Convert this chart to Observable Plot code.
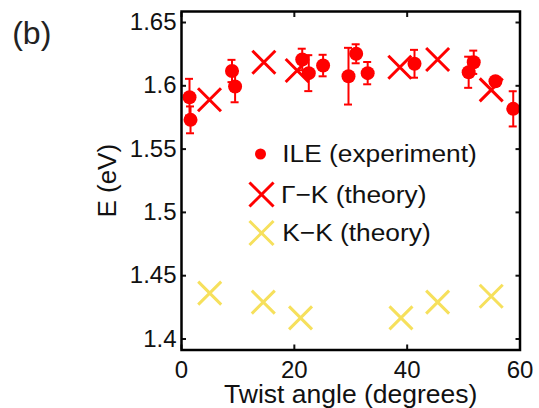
<!DOCTYPE html>
<html><head><meta charset="utf-8">
<script src="https://cdn.jsdelivr.net/npm/d3@7"></script>
<script src="https://cdn.jsdelivr.net/npm/@observablehq/plot@0.6"></script>
<style>
body{margin:0;background:#fff;}
#chart svg{font-family:"Liberation Sans",Arial,Helvetica,sans-serif;background:#fff;}
</style></head><body><div id="chart"></div>
<script>
// ILE (experiment): twist angle, energy, error half-width
const ileAngle  = [1.42, 1.6, 8.95, 9.5, 21.4, 22.56, 25.1, 29.6, 30.96, 33.0, 41.3, 51.8, 50.9, 55.65, 58.8];
const ileEnergy = [1.591, 1.5731, 1.6117, 1.5994, 1.6208, 1.610, 1.616, 1.6076, 1.6253, 1.610, 1.6174, 1.6186, 1.6107, 1.6036, 1.5818];
const ileError  = [0.0145, 0.0106, 0.0088, 0.0124, 0.0085, 0.0142, 0.0085, 0.0224, 0.0075, 0.0088, 0.011, 0.0092, 0.0123, 0.003, 0.0139];
// Γ−K (theory)
const gkAngle  = [4.96, 14.6, 20.5, 38.7, 45.4, 54.9];
const gkEnergy = [1.589, 1.6186, 1.6121, 1.6147, 1.6208, 1.5968];
// K−K (theory)
const kkAngle  = [5.0, 14.5, 21.1, 38.9, 45.4, 54.9];
const kkEnergy = [1.4362, 1.4291, 1.4167, 1.4167, 1.4291, 1.4338];

const xTicks = [0, 20, 40, 60];
const yTicks = [1.4, 1.45, 1.5, 1.55, 1.6, 1.65];
const yTickLabels = ["1.4", "1.45", "1.5", "1.55", "1.6", "1.65"];
const legendLabels = ["ILE (experiment)", "\u0393\u2212K (theory)", "K\u2212K (theory)"];
const panelLabel = "(b)";
const xLabel = "Twist angle (degrees)";
const yLabel = "E (eV)";

const RED = "#ff0000";
const YELLOW = "#f6e05c";

const ile = ileAngle.map((x, i) => ({x, y: ileEnergy[i], e: ileError[i]}));
const gk = gkAngle.map((x, i) => ({x, y: gkEnergy[i]}));
const kk = kkAngle.map((x, i) => ({x, y: kkEnergy[i]}));
const yFmt = d => yTickLabels[yTicks.findIndex(t => Math.abs(t - d) < 1e-9)];

const chart = Plot.plot({
  width: 539,
  height: 408,
  marginLeft: 181,
  marginRight: 19.5,
  marginTop: 11,
  marginBottom: 58.5,
  style: {background: "#fff", color: "#111"},
  x: {domain: [0, 60]},
  y: {domain: [1.3913, 1.6587]},
  marks: [
    Plot.axisX({anchor: "bottom", ticks: xTicks, tickSize: -5, tickPadding: 16, strokeWidth: 2, fontSize: 24, label: null}),
    Plot.axisX({anchor: "top", ticks: xTicks, tickSize: -5, tickFormat: () => "", strokeWidth: 2, label: null}),
    Plot.axisY({anchor: "left", ticks: yTicks, tickSize: -5, tickPadding: 10, tickFormat: yFmt, strokeWidth: 2, fontSize: 24, label: null}),
    Plot.axisY({anchor: "right", ticks: yTicks, tickSize: -5, tickFormat: () => "", strokeWidth: 2, label: null}),
    // error bars
    Plot.ruleX(ile, {x: "x", y1: d => d.y - d.e, y2: d => d.y + d.e, stroke: RED, strokeWidth: 2}),
    Plot.ruleY(ile, {y: d => d.y + d.e, x1: "x", x2: "x", insetLeft: -4, insetRight: -4, stroke: RED, strokeWidth: 2}),
    Plot.ruleY(ile, {y: d => d.y - d.e, x1: "x", x2: "x", insetLeft: -4, insetRight: -4, stroke: RED, strokeWidth: 2}),
    Plot.dot(ile, {x: "x", y: "y", r: 7, fill: RED}),
    Plot.dot(gk, {x: "x", y: "y", symbol: "times", r: 10.5, stroke: RED, strokeWidth: 3}),
    Plot.dot(kk, {x: "x", y: "y", symbol: "times", r: 10.5, stroke: YELLOW, strokeWidth: 3}),
    // legend
    Plot.dot([legendLabels[0]], {frameAnchor: "top-left", dx: 79, dy: 142.5, r: 5.5, fill: RED}),
    Plot.dot([legendLabels[1]], {frameAnchor: "top-left", dx: 80, dy: 183, symbol: "times", r: 11, stroke: RED, strokeWidth: 3}),
    Plot.dot([legendLabels[2]], {frameAnchor: "top-left", dx: 80, dy: 221.5, symbol: "times", r: 11, stroke: YELLOW, strokeWidth: 3}),
    Plot.text([legendLabels[0]], {frameAnchor: "top-left", dx: 100.7, dy: 142.5, text: d => d, textAnchor: "start", lineAnchor: "middle", fontSize: 24.5, fill: "#111"}),
    Plot.text([legendLabels[1]], {frameAnchor: "top-left", dx: 99.5, dy: 183.5, text: d => d, textAnchor: "start", lineAnchor: "middle", fontSize: 24.5, fill: "#111"}),
    Plot.text([legendLabels[2]], {frameAnchor: "top-left", dx: 100.7, dy: 222, text: d => d, textAnchor: "start", lineAnchor: "middle", fontSize: 24.5, fill: "#111"}),
    // axis labels
    Plot.text([xLabel], {frameAnchor: "bottom", dy: 53, text: d => d, textAnchor: "middle", lineAnchor: "bottom", fontSize: 26.5, fill: "#111"}),
    Plot.text([yLabel], {frameAnchor: "left", dx: -66, text: d => d, textAnchor: "middle", lineAnchor: "bottom", rotate: -90, fontSize: 26, fill: "#111"}),
    Plot.text([panelLabel], {frameAnchor: "top-left", dx: -169.3, dy: 32, text: d => d, textAnchor: "start", lineAnchor: "bottom", fontSize: 32, fill: "#222"}),
    Plot.frame({stroke: "#000", strokeWidth: 2.5})
  ]
});
// slight horizontal stretch of legend text, as in the reference
chart.querySelectorAll("text").forEach(t => {
  if (!legendLabels.includes(t.textContent)) return;
  const tr = t.getAttribute("transform");
  if (tr) t.setAttribute("transform", tr + " scale(1.075,1)");
});
document.getElementById("chart").appendChild(chart);
</script></body></html>
